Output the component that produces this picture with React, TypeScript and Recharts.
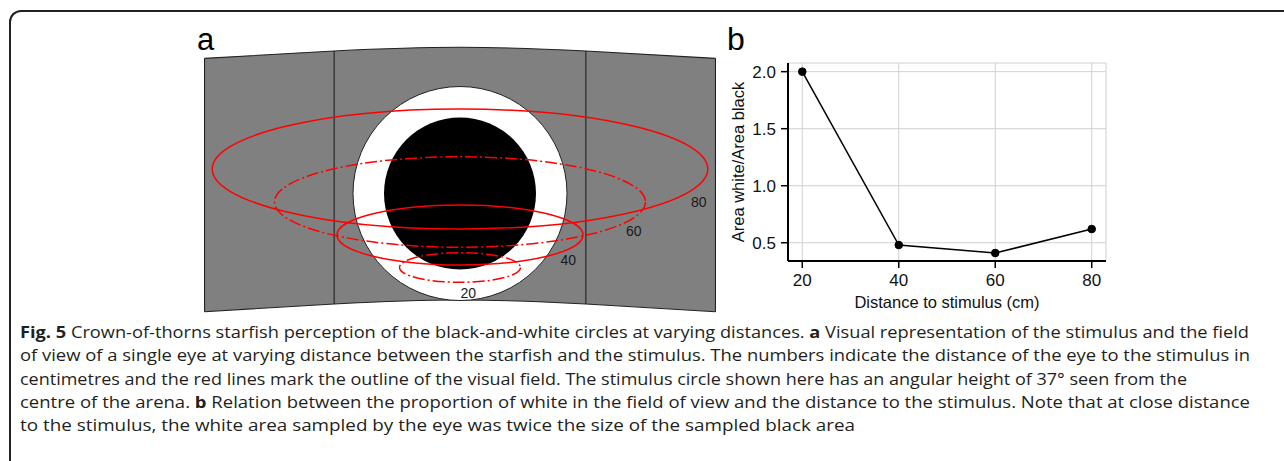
import React from 'react';
import {
  LineChart,
  Line,
  XAxis,
  YAxis,
  CartesianGrid,
  ComposedChart,
  Area,
  Scatter,
  Label,
} from 'recharts';

// ---------- Panel b data ----------
const distances = [20, 40, 60, 80];
const ratioWhiteBlack = [2.0, 0.48, 0.41, 0.62];
const xTicks = [20, 40, 60, 80];
const yTicks = [0.5, 1.0, 1.5, 2.0];

// ---------- Panel a data (degrees of visual angle, origin = stimulus centre) ----------
const arenaX = [-44.17, -21.76, 0, 21.76, 44.17];
const arenaTop = [23.37, 24.64, 25.28, 24.64, 23.37];
const arenaBottom = [-20.44, -19.1, -18.41, -19.1, -20.44];
const seamIndex = [0, 1, 3, 4];
const stimulusRadius = [18.5, 13.14];
const stimulusFill = ['#ffffff', '#000000'];
const fieldDistance = [80, 60, 40, 20];
const fieldCentreY = [4.24, -1.47, -7.17, -12.79];
const fieldRadiusX = [42.84, 32.07, 21.27, 10.46];
const fieldRadiusY = [10.37, 7.83, 5.19, 2.56];
const fieldDashed = [false, true, false, true];
const labelX = [41.29, 30.05, 18.71, 1.42];
const labelY = [-1.42, -6.43, -11.5, -17.25];

// ---------- Caption ----------
const captionLines: { t: string; b?: boolean }[][] = [
  [
    { t: 'Fig. 5', b: true },
    { t: ' Crown-of-thorns starfish perception of the black-and-white circles at varying distances. ' },
    { t: 'a', b: true },
    { t: ' Visual representation of the stimulus and the field' },
  ],
  [{ t: 'of view of a single eye at varying distance between the starfish and the stimulus. The numbers indicate the distance of the eye to the stimulus in' }],
  [{ t: 'centimetres and the red lines mark the outline of the visual field. The stimulus circle shown here has an angular height of 37° seen from the' }],
  [
    { t: 'centre of the arena. ' },
    { t: 'b', b: true },
    { t: ' Relation between the proportion of white in the field of view and the distance to the stimulus. Note that at close distance' },
  ],
  [{ t: 'to the stimulus, the white area sampled by the eye was twice the size of the sampled black area' }],
];
const captionLineEnds = [1249, 1250, 1187, 1250, 855];

const FONT = '"Liberation Sans", Arial, Helvetica, sans-serif';

// Panel a chart geometry
const PA_W = 530;
const PA_H = 300;
const PA_XDOM: [number, number] = [-45.82, 45.82];
const PA_YDOM: [number, number] = [-21.87, 30.0];
const KX = PA_W / (PA_XDOM[1] - PA_XDOM[0]);
const KY = PA_H / (PA_YDOM[1] - PA_YDOM[0]);

const arenaData = arenaX.map((x, i) => ({ x, band: [arenaBottom[i], arenaTop[i]] }));

const diagramItems: any[] = [
  ...seamIndex.map((i) => ({
    kind: 'seam',
    x: arenaX[i],
    y: (arenaTop[i] + arenaBottom[i]) / 2,
    half: (arenaTop[i] - arenaBottom[i]) / 2,
  })),
  ...stimulusRadius.map((r, i) => ({ kind: 'disc', x: 0, y: 0, r, fill: stimulusFill[i] })),
  ...fieldDistance.map((d, i) => ({
    kind: 'field',
    x: 0,
    y: fieldCentreY[i],
    rx: fieldRadiusX[i],
    ry: fieldRadiusY[i],
    dashed: fieldDashed[i],
  })),
  ...fieldDistance.map((d, i) => ({ kind: 'label', x: labelX[i], y: labelY[i], text: String(d) })),
];

function DiagramShape(props: any) {
  const { cx, cy, payload } = props;
  if (cx == null || cy == null || !payload) return <g />;
  switch (payload.kind) {
    case 'seam':
      return (
        <line
          x1={cx}
          x2={cx}
          y1={cy - payload.half * KY}
          y2={cy + payload.half * KY}
          stroke="#222"
          strokeWidth={1.1}
        />
      );
    case 'disc':
      return (
        <circle
          cx={cx}
          cy={cy}
          r={payload.r * KX}
          fill={payload.fill}
          stroke={payload.fill === '#ffffff' ? '#222' : 'none'}
          strokeWidth={1}
        />
      );
    case 'field':
      return (
        <ellipse
          cx={cx}
          cy={cy}
          rx={payload.rx * KX}
          ry={payload.ry * KY}
          fill="none"
          stroke="#ff0000"
          strokeWidth={1.5}
          strokeDasharray={payload.dashed ? '12 3 2 3' : undefined}
        />
      );
    case 'label':
      return (
        <text
          x={cx}
          y={cy}
          textAnchor="middle"
          dominantBaseline="central"
          fontSize={14}
          fontFamily={FONT}
          fill="#1a1a1a"
        >
          {payload.text}
        </text>
      );
    default:
      return <g />;
  }
}

const lineData = distances.map((d, i) => ({ d, r: ratioWhiteBlack[i] }));

function XTitle(props: any) {
  const vb = props.viewBox || { x: 788, y: 261, width: 318, height: 40 };
  const x = vb.x + vb.width / 2;
  const y = vb.y + 41;
  return (
    <text x={x} y={y} textAnchor="middle" dominantBaseline="central" fontSize={16.5} fontFamily={FONT} fill="#111">
      Distance to stimulus (cm)
    </text>
  );
}

function YTitle(props: any) {
  const vb = props.viewBox || { x: 728, y: 63, width: 60, height: 198 };
  const x = vb.x + 10;
  const y = vb.y + vb.height / 2;
  return (
    <text
      x={x}
      y={y}
      transform={`rotate(-90 ${x} ${y})`}
      textAnchor="middle"
      dominantBaseline="central"
      fontSize={16.5}
      fontFamily={FONT}
      fill="#111"
    >
      Area white/Area black
    </text>
  );
}

export default function App() {
  const tickStyle = { fill: '#111', fontSize: 17, fontFamily: FONT };
  return (
    <div
      style={{
        position: 'absolute',
        left: 0,
        top: 0,
        width: 1284,
        height: 461,
        overflow: 'hidden',
        background: '#fff',
      }}
    >
      {/* outer frame */}
      <div
        style={{
          position: 'absolute',
          left: 9,
          top: 10,
          width: 1400,
          height: 600,
          borderTop: '2px solid #222',
          borderLeft: '2px solid #222',
          borderTopLeftRadius: 12,
          boxSizing: 'border-box',
        }}
      />

      {/* panel a */}
      <div style={{ position: 'absolute', left: 459.5 - PA_W / 2, top: 20 }}>
        <ComposedChart width={PA_W} height={PA_H} data={arenaData} margin={{ top: 0, right: 0, bottom: 0, left: 0 }}>
          <XAxis dataKey="x" type="number" domain={PA_XDOM} allowDataOverflow hide />
          <YAxis dataKey="y" type="number" domain={PA_YDOM} allowDataOverflow hide />
          <Area
            dataKey="band"
            type="natural"
            fill="#808080"
            fillOpacity={1}
            stroke="#222"
            strokeWidth={1.1}
            isAnimationActive={false}
            dot={false}
            activeDot={false}
          />
          <Scatter data={diagramItems} dataKey="y" shape={DiagramShape} isAnimationActive={false} />
        </ComposedChart>
      </div>

      {/* panel b */}
      <div style={{ position: 'absolute', left: 700, top: 20 }}>
        <LineChart width={420} height={300} data={lineData} margin={{ top: 43, right: 14, left: 28, bottom: 19 }}>
          <CartesianGrid stroke="#d0d0d0" strokeWidth={1} />
          <XAxis
            dataKey="d"
            type="number"
            domain={[17.04, 82.96]}
            ticks={xTicks}
            allowDataOverflow
            height={40}
            tickSize={7}
            tickMargin={6}
            axisLine={{ stroke: '#000', strokeWidth: 2 }}
            tickLine={{ stroke: '#000', strokeWidth: 1.5 }}
            tick={tickStyle}
          >
            <Label content={XTitle} />
          </XAxis>
          <YAxis
            type="number"
            domain={[0.34, 2.076]}
            ticks={yTicks}
            allowDataOverflow
            width={60}
            tickSize={7}
            tickMargin={5}
            tickFormatter={(v: number) => v.toFixed(1)}
            axisLine={{ stroke: '#000', strokeWidth: 2 }}
            tickLine={{ stroke: '#000', strokeWidth: 1.5 }}
            tick={tickStyle}
          >
            <Label content={YTitle} />
          </YAxis>
          <Line
            dataKey="r"
            stroke="#000"
            strokeWidth={1.5}
            dot={{ r: 3.8, fill: '#000', stroke: '#000', strokeWidth: 1 }}
            activeDot={false}
            isAnimationActive={false}
          />
        </LineChart>
      </div>

      {/* panel letters and caption */}
      <svg
        width={1284}
        height={461}
        style={{ position: 'absolute', left: 0, top: 0, pointerEvents: 'none' }}
      >
        <text x={197} y={50} fontSize={31} fontFamily={FONT} fill="#000">a</text>
        <text x={727} y={50} fontSize={32} fontFamily={FONT} fill="#000">b</text>
        {captionLines.map((segs, i) => (
          <text
            key={i}
            x={20}
            y={338 + i * 23.3}
            fontSize={16.3}
            fontFamily='"Open Sans", "Noto Sans", sans-serif'
            fill="#231f20"
            textLength={captionLineEnds[i] - 20}
            lengthAdjust="spacingAndGlyphs"
          >
            {segs.map((s, j) => (
              <tspan key={j} fontWeight={s.b ? 700 : 400}>
                {s.t}
              </tspan>
            ))}
          </text>
        ))}
      </svg>
    </div>
  );
}
